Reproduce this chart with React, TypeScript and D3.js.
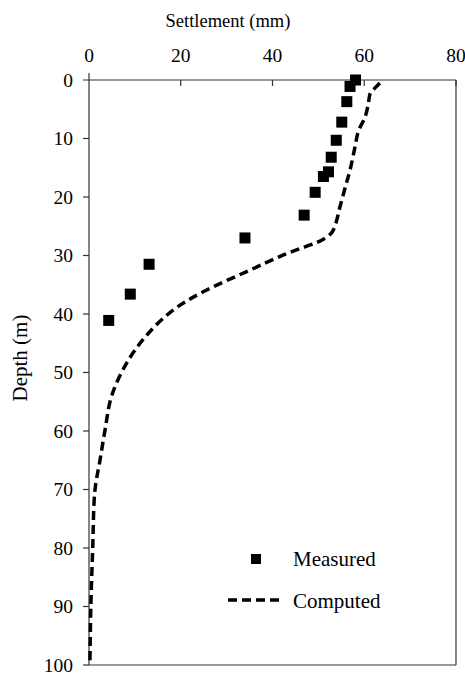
import React, { useEffect, useRef } from 'react';
import * as d3 from 'd3';

// measured settlement (mm) vs depth (m)
const measuredSettlement = [58.1, 56.9, 56.2, 55.1, 53.9, 52.8, 52.2, 51.1, 49.3, 46.9, 34.0, 13.1, 9.0, 4.3];
const measuredDepth = [0.0, 1.1, 3.7, 7.2, 10.3, 13.2, 15.7, 16.5, 19.2, 23.1, 27.0, 31.5, 36.6, 41.1];

// computed curve
const computedSettlement = [63.4, 62.3, 61.3, 60.9, 60.2, 58.7, 58.0, 56.9, 55.8, 54.7, 53.8, 52.9, 50.7, 48.2, 42.4, 34.8, 24.9, 18.4, 12.6, 8.2, 4.9, 3.5, 2.4, 1.3, 0.8, 0.4, 0.2];
const computedDepth = [0.5, 1.4, 2.3, 4.0, 6.3, 8.8, 11.4, 15.4, 18.5, 21.7, 24.5, 26.1, 27.4, 28.2, 29.9, 32.6, 36.2, 39.3, 43.6, 48.4, 54.1, 59.8, 65.0, 70.1, 80.3, 90.0, 99.7];

const xTicks = [0, 20, 40, 60, 80];
const yTicks = [0, 10, 20, 30, 40, 50, 60, 70, 80, 90, 100];

const App: React.FC = () => {
  const svgRef = useRef<SVGSVGElement | null>(null);

  useEffect(() => {
    const width = 465;
    const height = 676;
    const left = 89, right = 456, top = 80, bottom = 665;
    const font = "'Times New Roman', 'Liberation Serif', serif";

    const svg = d3.select(svgRef.current);
    svg.selectAll("*").remove();
    svg.attr("width", width).attr("height", height).attr("viewBox", `0 0 ${width} ${height}`);

    const x = d3.scaleLinear().domain([0, 80]).range([left, right]);
    const y = d3.scaleLinear().domain([0, 100]).range([top, bottom]);

    svg.append("rect").attr("width", width).attr("height", height).attr("fill", "white");

    // frame
    const frame = svg.append("g").attr("stroke", "#333").attr("stroke-width", 1.2).attr("fill", "none");
    frame.append("line").attr("x1", left - 6).attr("x2", right).attr("y1", top).attr("y2", top);
    frame.append("line").attr("x1", left).attr("x2", right).attr("y1", bottom).attr("y2", bottom);
    frame.append("line").attr("x1", left).attr("x2", left).attr("y1", top - 7).attr("y2", bottom);
    frame.append("line").attr("x1", right).attr("x2", right).attr("y1", top).attr("y2", bottom);

    // top axis ticks + labels
    const gx = svg.append("g");
    gx.selectAll("line").data(xTicks.slice(1)).join("line")
      .attr("x1", d => x(d)).attr("x2", d => x(d))
      .attr("y1", top).attr("y2", top + 6)
      .attr("stroke", "#333").attr("stroke-width", 1.2);
    gx.selectAll("text").data(xTicks).join("text")
      .attr("x", d => x(d)).attr("y", top - 18)
      .attr("text-anchor", "middle")
      .attr("font-family", font).attr("font-size", 19.5)
      .text(d => d);

    // left axis ticks + labels
    const gy = svg.append("g");
    gy.selectAll("line").data(yTicks.slice(1)).join("line")
      .attr("x1", left - 6).attr("x2", left)
      .attr("y1", d => y(d)).attr("y2", d => y(d))
      .attr("stroke", "#333").attr("stroke-width", 1.2);
    gy.selectAll("text").data(yTicks).join("text")
      .attr("x", left - 16).attr("y", d => y(d))
      .attr("dy", "0.35em")
      .attr("text-anchor", "end")
      .attr("font-family", font).attr("font-size", 19.5)
      .text(d => d);

    svg.append("text")
      .attr("x", 228).attr("y", 27)
      .attr("text-anchor", "middle")
      .attr("font-family", font).attr("font-size", 18.5)
      .text("Settlement (mm)");

    svg.append("text")
      .attr("transform", `translate(27,358) rotate(-90)`)
      .attr("text-anchor", "middle")
      .attr("font-family", font).attr("font-size", 21)
      .text("Depth (m)");

    // computed dashed curve
    const computed = computedDepth.map((d, i) => ({ s: computedSettlement[i], d }));
    const line = d3.line<{ s: number; d: number }>()
      .x(p => x(p.s)).y(p => y(p.d))
      .curve(d3.curveCatmullRom.alpha(0.5));
    svg.append("path")
      .datum(computed)
      .attr("d", line)
      .attr("fill", "none")
      .attr("stroke", "black")
      .attr("stroke-width", 3.5)
      .attr("stroke-dasharray", "9,5");

    // measured squares
    const sz = 11;
    svg.append("g").selectAll("rect")
      .data(measuredDepth.map((d, i) => ({ s: measuredSettlement[i], d })))
      .join("rect")
      .attr("x", p => x(p.s) - sz / 2).attr("y", p => y(p.d) - sz / 2)
      .attr("width", sz).attr("height", sz)
      .attr("fill", "black");

    // legend
    const lg = svg.append("g");
    lg.append("rect").attr("x", 251).attr("y", 554).attr("width", 10).attr("height", 10).attr("fill", "black");
    lg.append("text").attr("x", 293).attr("y", 566)
      .attr("font-family", font).attr("font-size", 21).text("Measured");
    lg.append("line").attr("x1", 228).attr("x2", 282).attr("y1", 600).attr("y2", 600)
      .attr("stroke", "black").attr("stroke-width", 3.5).attr("stroke-dasharray", "9,5");
    lg.append("text").attr("x", 293).attr("y", 608)
      .attr("font-family", font).attr("font-size", 21).text("Computed");
  }, []);

  return <svg ref={svgRef} style={{ position: 'absolute', left: 0, top: 0 }}></svg>;
};

export default App;
